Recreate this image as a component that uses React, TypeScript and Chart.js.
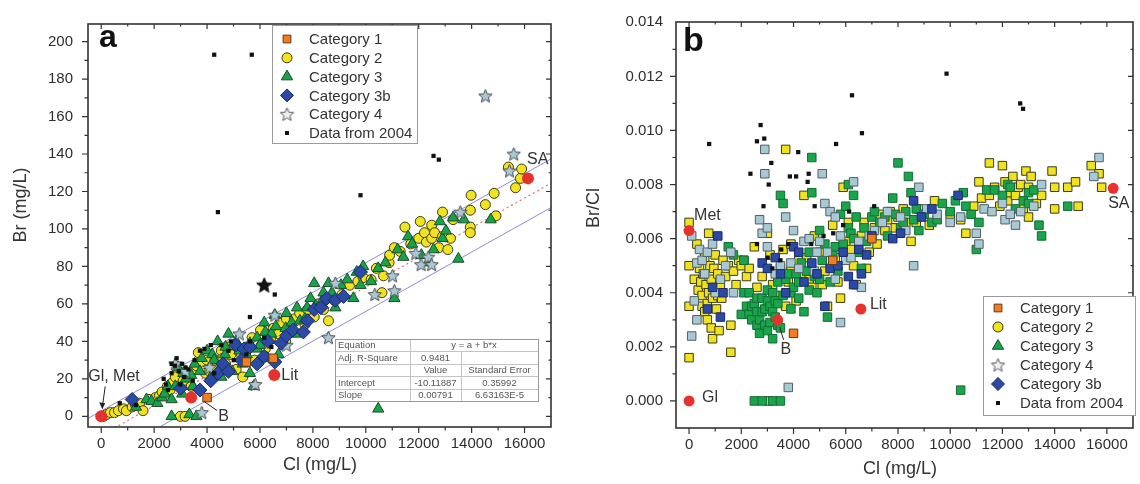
import { useEffect, useRef } from 'react';
import { Chart, registerables } from 'chart.js';
import { drawPoint } from 'chart.js/helpers';

Chart.register(...registerables);

type P = [number, number];

const FONT = '"Liberation Sans", Arial, Helvetica, sans-serif';
const INK = '#2e2e2e';

// shared x tick values (Cl, mg/L)
const xTickVals = [0, 2000, 4000, 6000, 8000, 10000, 12000, 14000, 16000];

// ---------------- Panel a : Br (mg/L) vs Cl (mg/L) ----------------
const aCat1: P[] = [[4000, 10], [5490, 29], [6500, 31]];

const aCat2: P[] = [
  [90, 0], [200, 1], [350, 2], [500, 2], [650, 3], [840, 4], [950, 3], [1170, 5], [1300, 6], [1450, 7],
  [1580, 3], [1800, 9], [2050, 10], [2200, 11], [2300, 13], [2500, 16], [2600, 14], [2700, 18], [2800, 21],
  [2990, 0], [3100, 19], [3170, 0], [3300, 23], [3400, 16], [3500, 25], [3600, 27], [3670, 34], [3800, 29],
  [3940, 23], [4000, 30], [4100, 24], [4200, 27], [4300, 30], [4540, 35], [4600, 31], [4700, 28], [4800, 37],
  [4900, 33], [5100, 25], [5300, 33], [5350, 21], [5500, 37], [5700, 42], [5800, 30], [6020, 46], [6100, 39],
  [6200, 36], [6400, 41], [6500, 47], [6700, 44], [6800, 50], [6970, 40], [7000, 52], [7100, 47], [7300, 52],
  [7500, 55], [7700, 49], [7800, 57], [8050, 53], [8200, 60], [8400, 57], [8590, 51], [8800, 62], [9100, 65],
  [9390, 70], [9700, 72], [9900, 74], [10200, 73], [10400, 79], [10610, 66], [10670, 75], [10880, 82],
  [10900, 86], [11080, 90], [11300, 88], [11480, 101], [11700, 92], [12000, 95], [12060, 104], [12220, 98],
  [12290, 93], [12490, 102], [12490, 95], [12600, 98], [12760, 90], [12900, 109], [12900, 96], [13100, 89],
  [13200, 95], [13300, 105], [13950, 110], [13950, 101], [13950, 98], [13980, 118], [14520, 113],
  [14850, 119], [14920, 107], [15390, 133], [15660, 122], [15840, 127], [15890, 132],
];

const aCat3: P[] = [
  [1310, 5], [1710, 9], [1900, 8], [2120, 7], [2300, 10], [2400, 12], [2520, 16], [2660, 9], [2660, 0],
  [2800, 16], [2900, 26], [3060, 12], [3100, 23], [3200, 20], [3330, 1], [3400, 22], [3460, 16], [3530, 28],
  [3600, 0], [3730, 24], [3800, 31], [4000, 35], [4140, 21], [4200, 33], [4270, 30], [4400, 40], [4540, 21],
  [4680, 33], [4700, 37], [4810, 44], [4950, 24], [5100, 40], [5220, 35], [5350, 28], [5500, 33], [5620, 39],
  [5620, 23], [5760, 16], [5890, 42], [5900, 36], [6000, 38], [6160, 50], [6200, 45], [6290, 31], [6430, 44],
  [6560, 54], [6600, 48], [6700, 33], [6970, 47], [7000, 55], [7200, 50], [7370, 44], [7400, 58], [7510, 51],
  [7700, 52], [7780, 58], [7910, 63], [8050, 71], [8100, 59], [8320, 61], [8400, 66], [8590, 71], [8720, 66],
  [8850, 58], [9060, 70], [9300, 73], [9530, 63], [9660, 77], [9800, 70], [9900, 80], [10200, 72],
  [10470, 79], [10470, 4], [10740, 82], [11080, 63], [11200, 89], [11420, 85], [11600, 96], [11750, 92],
  [12100, 86], [12360, 82], [12560, 89], [12800, 104], [12900, 95], [13030, 99], [13300, 106], [13500, 84],
  [13710, 105], [14720, 105],
];

const aCat3b: P[] = [
  [1170, 9], [3000, 15], [3730, 14], [4140, 19], [4410, 23], [4600, 28], [4810, 24], [5080, 38], [5300, 30],
  [5400, 36], [5620, 37], [5890, 28], [6160, 32], [6300, 40], [6560, 29], [6800, 39], [7000, 43], [7240, 46],
  [7640, 45], [7800, 51], [8050, 57], [8300, 58], [8520, 63], [8850, 62], [9160, 64], [9800, 77],
];

const aCat4: P[] = [
  [2800, 28], [3190, 24], [3800, 2], [4100, 26], [5220, 44], [5820, 17], [6560, 54], [7000, 38], [8590, 42],
  [8850, 71], [10340, 65], [11010, 75], [11080, 67], [11890, 87], [12090, 81], [12360, 85], [12490, 81],
  [13570, 109], [14520, 171], [15430, 131], [15590, 140],
];

const a2004: P[] = [
  [700, 7], [1310, 6], [2360, 20], [2450, 17], [2520, 14], [2660, 23], [2660, 28], [2790, 27], [2850, 31],
  [2930, 24], [2990, 17], [3060, 28], [3130, 21], [3190, 26], [3300, 25], [3460, 19], [3530, 30], [3730, 35],
  [3900, 36], [4140, 38], [4270, 23], [4270, 193], [4410, 109], [4540, 38], [4810, 35], [4900, 40], [5010, 30],
  [5490, 33], [5620, 40], [5620, 53], [5690, 193], [6160, 42], [6430, 37], [6560, 65], [9800, 118],
  [12560, 139], [12760, 137],
];
const a2004Star: P[] = [[6160, 70]];

const aRef: P[] = [[0, 0], [3400, 10], [6540, 22], [16130, 127]];
const aRefLabels = ['Gl, Met', 'B', 'Lit', 'SA'];

// fitted line and prediction band end points
const aFit: P[] = [[-500, -14.1], [17000, 124.4]];
const aBandUpper: P[] = [[-500, -1.1], [17000, 137.4]];
const aBandLower: P[] = [[-500, -27.1], [17000, 111.4]];

const tableRows: string[][] = [
  ['Equation', 'y = a + b*x', ''],
  ['Adj. R-Square', '0.9481', ''],
  ['', 'Value', 'Standard Error'],
  ['Intercept', '-10.11887', '0.35992'],
  ['Slope', '0.00791', '6.63163E-5'],
];

// ---------------- Panel b : Br/Cl vs Cl (mg/L) ----------------
const bCat1: P[] = [[4000, 0.0025], [5500, 0.0052], [7000, 0.006]];

const bCat2: P[] = [
  [0, 0.0066], [0, 0.005], [0, 0.0035], [0, 0.0016], [200, 0.0045], [300, 0.0058], [350, 0.0041], [400, 0.0049],
  [450, 0.0044], [500, 0.0039], [500, 0.0035], [550, 0.0047], [600, 0.0053], [600, 0.0033], [650, 0.0043],
  [700, 0.0036], [700, 0.003], [750, 0.0062], [750, 0.004], [800, 0.005], [850, 0.0045], [850, 0.0027],
  [900, 0.0038], [900, 0.0023], [950, 0.0049], [1000, 0.0054], [1000, 0.0041], [1050, 0.0034], [1100, 0.0047],
  [1100, 0.0039], [1150, 0.0026], [1200, 0.0043], [1250, 0.0038], [1300, 0.0052], [1400, 0.0046], [1500, 0.005],
  [1600, 0.0028], [1600, 0.0018], [1700, 0.0048], [1800, 0.0043], [1900, 0.0052], [2000, 0.005], [2100, 0.0052],
  [2200, 0.0046], [2300, 0.0049], [2500, 0.0057], [2600, 0.0042], [2800, 0.0046], [3000, 0.0062], [3050, 0.0],
  [3100, 0.0054], [3200, 0.0043], [3300, 0.0039], [3400, 0.0045], [3500, 0.0049], [3600, 0.0056], [3700, 0.0035],
  [3700, 0.0093], [3800, 0.0044], [3900, 0.0058], [3900, 0.0048], [4100, 0.0037], [4200, 0.0052], [4300, 0.0047],
  [4400, 0.0076], [4500, 0.0053], [4600, 0.0045], [4700, 0.0042], [4800, 0.0061], [5000, 0.0055], [5100, 0.0043],
  [5200, 0.0048], [5300, 0.0035], [5500, 0.0065], [5600, 0.0053], [5700, 0.0044], [5800, 0.0038], [5900, 0.0079],
  [6000, 0.0059], [6100, 0.0066], [6200, 0.0056], [6300, 0.005], [6400, 0.0043], [6600, 0.0061], [6700, 0.0066],
  [6800, 0.0049], [6900, 0.0055], [7100, 0.0064], [7200, 0.0058], [7300, 0.0069], [7500, 0.0063], [7600, 0.0067],
  [7700, 0.007], [7900, 0.0064], [8000, 0.0068], [8200, 0.0071], [8300, 0.0066], [8500, 0.0059], [8700, 0.0066],
  [8800, 0.0071], [9200, 0.0065], [9400, 0.0074], [10000, 0.0069], [10400, 0.0067], [10600, 0.0062],
  [10900, 0.0072], [11100, 0.0081], [11200, 0.0075], [11500, 0.0076], [11500, 0.0088], [11700, 0.0079],
  [11900, 0.0072], [12000, 0.0087], [12100, 0.0081], [12200, 0.0074], [12300, 0.0077], [12400, 0.0083],
  [12500, 0.0076], [12600, 0.0079], [12700, 0.008], [12800, 0.0071], [12900, 0.0085], [13000, 0.0068],
  [13000, 0.0079], [13100, 0.0083], [13300, 0.0073], [13500, 0.0076], [13900, 0.0085], [14000, 0.0079],
  [14000, 0.0071], [14500, 0.0079], [14800, 0.0081], [14900, 0.0072], [15400, 0.0087], [15700, 0.0084],
  [15800, 0.0079],
];

const bCat3: P[] = [
  [1500, 0.0057], [1700, 0.0054], [2000, 0.0032], [2100, 0.0052], [2100, 0.004], [2200, 0.0035], [2300, 0.004],
  [2300, 0.0032], [2400, 0.003], [2400, 0.0035], [2500, 0.0036], [2500, 0.0], [2600, 0.0033], [2600, 0.0038],
  [2600, 0.0028], [2700, 0.0025], [2700, 0.003], [2800, 0.0038], [2800, 0.0033], [2800, 0.0], [2900, 0.0028],
  [2900, 0.0034], [3000, 0.0041], [3000, 0.0026], [3000, 0.0037], [3100, 0.0035], [3100, 0.0029], [3200, 0.0023],
  [3200, 0.004], [3200, 0.0033], [3200, 0.0], [3300, 0.0031], [3300, 0.0037], [3400, 0.0044], [3400, 0.0036],
  [3400, 0.0028], [3500, 0.0076], [3500, 0.0027], [3500, 0.0], [3600, 0.0073], [3600, 0.0039], [3700, 0.0045],
  [3800, 0.0047], [3900, 0.0034], [3900, 0.004], [4000, 0.0042], [4100, 0.0047], [4200, 0.0038], [4200, 0.0044],
  [4300, 0.0051], [4400, 0.0033], [4500, 0.0048], [4600, 0.0055], [4600, 0.0041], [4700, 0.009], [4700, 0.0077],
  [4800, 0.0046], [4900, 0.004], [5000, 0.0063], [5000, 0.0045], [5100, 0.0052], [5200, 0.0058], [5300, 0.0031],
  [5400, 0.0044], [5500, 0.0054], [5600, 0.0057], [5700, 0.0048], [5800, 0.0069], [5900, 0.0058], [6000, 0.0072],
  [6100, 0.008], [6100, 0.0064], [6200, 0.0062], [6300, 0.0076], [6300, 0.006], [6400, 0.0068], [6500, 0.0055],
  [6600, 0.0049], [6700, 0.0064], [6800, 0.0059], [7000, 0.0068], [7100, 0.007], [7300, 0.0066], [7500, 0.0068],
  [7600, 0.0061], [7800, 0.0075], [7900, 0.0069], [8000, 0.0088], [8100, 0.0064], [8200, 0.0066], [8300, 0.007],
  [8400, 0.0083], [8500, 0.0077], [8600, 0.0067], [8700, 0.0071], [8800, 0.0063], [9000, 0.0069], [9300, 0.0066],
  [9500, 0.0067], [9700, 0.0073], [10000, 0.007], [10200, 0.0074], [10400, 0.0004], [10500, 0.0077],
  [10600, 0.0072], [10800, 0.0069], [11000, 0.0056], [11100, 0.0066], [11400, 0.0078], [11700, 0.0078],
  [12000, 0.0076], [12200, 0.008], [12300, 0.0079], [12500, 0.0071], [12800, 0.0074], [13000, 0.0073],
  [13000, 0.0077], [13200, 0.0078], [13400, 0.0065], [13500, 0.0061], [14500, 0.0072],
];

const bCat4: P[] = [
  [100, 0.0061], [100, 0.0024], [200, 0.0037], [300, 0.003], [300, 0.0051], [400, 0.0056], [500, 0.0052],
  [600, 0.0047], [700, 0.0055], [900, 0.0058], [1000, 0.004], [1200, 0.0045], [1400, 0.005], [1600, 0.0055],
  [1700, 0.004], [2700, 0.0067], [2800, 0.0062], [2900, 0.0093], [2900, 0.0084], [3000, 0.0057], [3000, 0.0064],
  [3300, 0.0047], [3500, 0.005], [3700, 0.0068], [3800, 0.0005], [3900, 0.0051], [4000, 0.0063], [4200, 0.0049],
  [4400, 0.0059], [4600, 0.006], [4800, 0.0048], [4900, 0.0055], [5000, 0.0059], [5100, 0.0084], [5200, 0.0073],
  [5300, 0.0055], [5400, 0.007], [5600, 0.0068], [5600, 0.0045], [5800, 0.0029], [5800, 0.0061], [6000, 0.0052],
  [6200, 0.0053], [6300, 0.0081], [6500, 0.0059], [6600, 0.0042], [6900, 0.0061], [7100, 0.0063], [7400, 0.0066],
  [7600, 0.007], [8100, 0.0068], [8300, 0.0063], [8600, 0.005], [8800, 0.0079], [9100, 0.0071], [9500, 0.0069],
  [10000, 0.0066], [10400, 0.0068], [11000, 0.0062], [11100, 0.0058], [11300, 0.0071], [11600, 0.007],
  [12000, 0.0073], [12100, 0.0067], [12300, 0.0069], [12500, 0.0065], [12700, 0.007], [13200, 0.0072],
  [13500, 0.008], [15500, 0.0083], [15700, 0.009],
];

const bCat3b: P[] = [
  [700, 0.0034], [900, 0.0042], [1100, 0.0061], [1200, 0.0031], [1300, 0.004], [2800, 0.0051], [3000, 0.0049],
  [3300, 0.0053], [3500, 0.0047], [3700, 0.004], [4000, 0.0057], [4200, 0.0055], [4400, 0.0044], [4700, 0.0051],
  [4900, 0.0047], [5200, 0.0035], [5400, 0.0049], [5700, 0.005], [5900, 0.0055], [6100, 0.0046], [6300, 0.0043],
  [6500, 0.0056], [6600, 0.0047], [6800, 0.0054], [7000, 0.0061], [7800, 0.006], [8100, 0.0062], [8600, 0.0074],
  [8900, 0.0068], [9300, 0.0071], [10300, 0.0076],
];

const b2004: P[] = [
  [770, 0.0095], [2350, 0.0084], [2600, 0.0096], [2600, 0.0058], [2740, 0.0102], [2850, 0.0072], [2880, 0.0097],
  [3010, 0.0053], [3050, 0.008], [3150, 0.0088], [3190, 0.0049], [3500, 0.0052], [3530, 0.0056], [3800, 0.0058],
  [3860, 0.0083], [4100, 0.0083], [4180, 0.0092], [4540, 0.0081], [4580, 0.0084], [4680, 0.0058], [4810, 0.0072],
  [5150, 0.0061], [5520, 0.0062], [5630, 0.0095], [5900, 0.0065], [6130, 0.007], [6240, 0.0113], [6620, 0.0099],
  [7090, 0.0072], [9860, 0.0121], [12680, 0.011], [12790, 0.0108],
];

const bRef: P[] = [[0, 0.0063], [0, 0], [3390, 0.003], [6580, 0.0034], [16240, 0.00786]];
const bRefLabels = ['Met', 'Gl', 'B', 'Lit', 'SA'];

// ---------------- helpers ----------------
const toPts = (arr: P[]) => arr.map(([x, y]) => ({ x, y }));

function makeStar(fill: string, stroke: string, r: number) {
  const c = document.createElement('canvas');
  const s = Math.ceil(r * 2 + 3);
  c.width = s;
  c.height = s;
  const g = c.getContext('2d')!;
  g.beginPath();
  for (let i = 0; i < 10; i++) {
    const rad = i % 2 === 0 ? r : r * 0.45;
    const ang = -Math.PI / 2 + (i * Math.PI) / 5;
    const px = s / 2 + rad * Math.cos(ang);
    const py = s / 2 + 0.5 + rad * Math.sin(ang);
    if (i === 0) g.moveTo(px, py);
    else g.lineTo(px, py);
  }
  g.closePath();
  g.fillStyle = fill;
  g.fill();
  g.lineWidth = 1;
  g.strokeStyle = stroke;
  g.stroke();
  return c;
}

function drawFrame(chart: any, xMinor: number, xPer: number, xMaxTick: number, yMinor: number, yPer: number, yCount: number) {
  const { ctx, chartArea: a } = chart;
  const xs = chart.scales.x;
  const ys = chart.scales.y;
  ctx.save();
  ctx.strokeStyle = '#333';
  ctx.lineWidth = 1.2;
  ctx.beginPath();
  for (let i = 0; i * xMinor <= xMaxTick; i++) {
    const px = xs.getPixelForValue(i * xMinor);
    const L = i % xPer === 0 ? 6 : 3.5;
    ctx.moveTo(px, a.bottom);
    ctx.lineTo(px, a.bottom + L);
    ctx.moveTo(px, a.top);
    ctx.lineTo(px, a.top + L - 1);
  }
  for (let i = 0; i <= yCount; i++) {
    const py = ys.getPixelForValue(i * yMinor);
    if (py < a.top + 1) continue;
    const L = i % yPer === 0 ? 6 : 3.5;
    ctx.moveTo(a.left, py);
    ctx.lineTo(a.left - L, py);
    ctx.moveTo(a.right, py);
    ctx.lineTo(a.right - L + 1, py);
  }
  ctx.stroke();
  ctx.lineWidth = 1.6;
  ctx.strokeRect(a.left, a.top, a.right - a.left, a.bottom - a.top);
  ctx.restore();
}

type LegendItem = { text: string; style: any; radius: number; fill: string; stroke: string; bw: number };

function drawLegend(ctx: CanvasRenderingContext2D, box: number[], items: LegendItem[], y0: number, dy: number, symX: number, textX: number) {
  ctx.save();
  ctx.fillStyle = '#ffffff';
  ctx.fillRect(box[0], box[1], box[2] - box[0], box[3] - box[1]);
  ctx.strokeStyle = '#9a9a9a';
  ctx.lineWidth = 1;
  ctx.strokeRect(box[0] + 0.5, box[1] + 0.5, box[2] - box[0], box[3] - box[1]);
  items.forEach((it, i) => {
    const y = y0 + i * dy;
    ctx.fillStyle = it.fill;
    ctx.strokeStyle = it.stroke;
    ctx.lineWidth = it.bw;
    drawPoint(ctx, { pointStyle: it.style, radius: it.radius, rotation: 0, borderWidth: it.bw } as any, symX, y);
    ctx.fillStyle = '#333';
    ctx.font = `15px ${FONT}`;
    ctx.textAlign = 'left';
    ctx.textBaseline = 'middle';
    ctx.fillText(it.text, textX, y + 1);
  });
  ctx.restore();
}

function text(ctx: CanvasRenderingContext2D, s: string, x: number, y: number, font: string, align: CanvasTextAlign = 'left', color = '#333') {
  ctx.font = font;
  ctx.fillStyle = color;
  ctx.textAlign = align;
  ctx.textBaseline = 'middle';
  ctx.fillText(s, x, y);
}

function axisOpts(extra: any) {
  return {
    type: 'linear',
    grid: { display: false, drawTicks: false },
    border: { display: false },
    ...extra,
  };
}

export default function App() {
  const refA = useRef<HTMLCanvasElement>(null);
  const refB = useRef<HTMLCanvasElement>(null);

  useEffect(() => {
    const starCat4 = makeStar('#a9c8d6', '#4a4a4a', 7);
    const starBlack = makeStar('#111111', '#111111', 8);
    const starLegend = makeStar('#eef2f4', '#555555', 7);
    const tickFont = { family: FONT, size: 15 };
    const setXTicks = (s: any) => { s.ticks = xTickVals.map((v) => ({ value: v })); };
    const plainLabel = (v: any) => String(Math.round(Number(v)));

    const red = '#e6322d';
    const cYellow = '#f1e31f';
    const cGreen = '#17a34a';
    const cBlue = '#2b4aa6';
    const cOrange = '#f07d22';

    // ---------- chart a ----------
    const pluginA = {
      id: 'decorA',
      afterDatasetsDraw(chart: any) {
        const ctx = chart.ctx as CanvasRenderingContext2D;
        const xs = chart.scales.x;
        const ys = chart.scales.y;
        drawFrame(chart, 1000, 2, 16000, 10, 2, 20);
        ctx.save();
        text(ctx, 'a', 99, 38, `bold 32px ${FONT}`, 'left', '#111');
        const px = (i: number) => xs.getPixelForValue(aRef[i][0]);
        const py = (i: number) => ys.getPixelForValue(aRef[i][1]);
        const f = `16px ${FONT}`;
        text(ctx, aRefLabels[0], px(0) - 13, py(0) - 40, f);
        text(ctx, aRefLabels[1], px(1) + 27, py(1) + 19, f);
        text(ctx, aRefLabels[2], px(2) + 7, py(2), f);
        text(ctx, aRefLabels[3], px(3) - 1, py(3) - 19, f);
        ctx.strokeStyle = '#222';
        ctx.fillStyle = '#222';
        ctx.lineWidth = 1;
        ctx.beginPath();
        ctx.moveTo(px(0) + 4, py(0) - 30);
        ctx.lineTo(px(0) + 1.5, py(0) - 12);
        ctx.moveTo(px(1) + 13, py(1) + 4);
        ctx.lineTo(px(1) + 26, py(1) + 13);
        ctx.stroke();
        ctx.beginPath();
        ctx.moveTo(px(0) + 1, py(0) - 7);
        ctx.lineTo(px(0) - 2, py(0) - 14);
        ctx.lineTo(px(0) + 4, py(0) - 13);
        ctx.closePath();
        ctx.fill();
        // statistics table
        const x0 = 335, y0 = 339, x1 = 538, rh = 12.4, c1 = 410, c2 = 461;
        const y1 = y0 + rh * 5;
        ctx.fillStyle = '#ffffff';
        ctx.fillRect(x0, y0, x1 - x0, y1 - y0);
        ctx.strokeStyle = '#c4c4c4';
        ctx.lineWidth = 1;
        ctx.beginPath();
        for (let i = 1; i < 5; i++) {
          ctx.moveTo(x0, Math.round(y0 + rh * i) + 0.5);
          ctx.lineTo(x1, Math.round(y0 + rh * i) + 0.5);
        }
        ctx.moveTo(c1 + 0.5, y0);
        ctx.lineTo(c1 + 0.5, y1);
        ctx.moveTo(c2 + 0.5, y0 + rh);
        ctx.lineTo(c2 + 0.5, y1);
        ctx.stroke();
        ctx.strokeStyle = '#999';
        ctx.strokeRect(x0 + 0.5, y0 + 0.5, x1 - x0, y1 - y0);
        const tf = `9.5px ${FONT}`;
        tableRows.forEach((row, i) => {
          const yy = y0 + rh * (i + 0.5) + 0.5;
          text(ctx, row[0], x0 + 3, yy, tf, 'left', '#555');
          if (i === 0) text(ctx, row[1], (c1 + x1) / 2, yy, tf, 'center', '#555');
          else {
            text(ctx, row[1], (c1 + c2) / 2, yy, tf, 'center', '#555');
            text(ctx, row[2], (c2 + x1) / 2, yy, tf, 'center', '#555');
          }
        });
        drawLegend(ctx, [272, 25, 417, 143], [
          { text: 'Category 1', style: 'rect', radius: 5.5, fill: cOrange, stroke: '#5a3a20', bw: 1 },
          { text: 'Category 2', style: 'circle', radius: 5, fill: cYellow, stroke: '#3a3a1a', bw: 1 },
          { text: 'Category 3', style: 'triangle', radius: 6.5, fill: cGreen, stroke: '#1d4d2a', bw: 1 },
          { text: 'Category 3b', style: 'rectRot', radius: 6.5, fill: cBlue, stroke: '#1b2860', bw: 1 },
          { text: 'Category 4', style: starLegend, radius: 7, fill: '#fff', stroke: '#555', bw: 1 },
          { text: 'Data from 2004', style: 'rect', radius: 2.8, fill: '#111', stroke: '#111', bw: 0 },
        ], 39, 18.8, 287, 309);
        text(ctx, 'Cl (mg/L)', 320, 465, `18px ${FONT}`, 'center', '#333');
        ctx.translate(21, 205);
        ctx.rotate(-Math.PI / 2);
        text(ctx, 'Br (mg/L)', 0, 0, `18px ${FONT}`, 'center', '#333');
        ctx.restore();
      },
    };

    const chartA = new Chart(refA.current!, {
      type: 'scatter',
      data: {
        datasets: [
          { label: 'Reference', data: toPts(aRef), pointStyle: 'circle', pointRadius: 6, backgroundColor: red, borderColor: red, borderWidth: 0, order: 0 },
          { label: 'Data from 2004', data: toPts(a2004), pointStyle: 'rect', pointRadius: 3, backgroundColor: '#111', borderColor: '#111', borderWidth: 0, order: 1 },
          { label: 'Data from 2004 (star)', data: toPts(a2004Star), pointStyle: starBlack, pointRadius: 8, order: 1 },
          { label: 'Category 1', data: toPts(aCat1), pointStyle: 'rect', pointRadius: 6, backgroundColor: cOrange, borderColor: '#5a3a20', borderWidth: 1, order: 2 },
          { label: 'Category 3b', data: toPts(aCat3b), pointStyle: 'rectRot', pointRadius: 7, backgroundColor: cBlue, borderColor: '#1b2860', borderWidth: 1, order: 3 },
          { label: 'Category 4', data: toPts(aCat4), pointStyle: starCat4, pointRadius: 7, order: 4 },
          { label: 'Category 3', data: toPts(aCat3), pointStyle: 'triangle', pointRadius: 6.5, backgroundColor: cGreen, borderColor: '#1d4d2a', borderWidth: 1, order: 5 },
          { label: 'Category 2', data: toPts(aCat2), pointStyle: 'circle', pointRadius: 5, backgroundColor: cYellow, borderColor: '#3a3a1a', borderWidth: 1, order: 6 },
          { label: 'Fit', data: toPts(aFit), showLine: true, pointRadius: 0, borderColor: '#e07070', borderWidth: 1.2, borderDash: [2, 3], order: 7 },
          { label: 'Upper band', data: toPts(aBandUpper), showLine: true, pointRadius: 0, borderColor: '#8c8cd6', borderWidth: 1, order: 7 },
          { label: 'Lower band', data: toPts(aBandLower), showLine: true, pointRadius: 0, borderColor: '#8c8cd6', borderWidth: 1, order: 7 },
        ],
      } as any,
      options: {
        animation: false,
        responsive: false,
        maintainAspectRatio: false,
        layout: { padding: { top: 15, right: 19, bottom: 0, left: 0 } },
        plugins: { legend: { display: false }, tooltip: { enabled: false }, title: { display: false } },
        scales: {
          x: axisOpts({
            min: -500, max: 17000,
            afterFit: (s: any) => { s.height = 57; },
            afterBuildTicks: setXTicks,
            ticks: { padding: 8, color: INK, font: tickFont, maxRotation: 0, autoSkip: false, callback: plainLabel },
          }),
          y: axisOpts({
            min: -5.7, max: 209.4,
            afterFit: (s: any) => { s.width = 88; },
            ticks: { stepSize: 20, includeBounds: false, padding: 15, color: INK, font: tickFont, autoSkip: false, callback: plainLabel },
          }),
        },
      } as any,
      plugins: [pluginA],
    });

    // ---------- chart b ----------
    const pluginB = {
      id: 'decorB',
      afterDatasetsDraw(chart: any) {
        const ctx = chart.ctx as CanvasRenderingContext2D;
        const xs = chart.scales.x;
        const ys = chart.scales.y;
        drawFrame(chart, 1000, 2, 16000, 0.001, 2, 14);
        ctx.save();
        text(ctx, 'b', 108, 42, `bold 34px ${FONT}`, 'left', '#111');
        const px = (i: number) => xs.getPixelForValue(bRef[i][0]);
        const py = (i: number) => ys.getPixelForValue(bRef[i][1]);
        const f = `16px ${FONT}`;
        text(ctx, bRefLabels[0], px(0) + 5, py(0) - 15, f);
        text(ctx, bRefLabels[1], px(1) + 13, py(1) - 3, f);
        text(ctx, bRefLabels[2], px(2) + 3, py(2) + 30, f);
        text(ctx, bRefLabels[3], px(3) + 9, py(3) - 4, f);
        text(ctx, bRefLabels[4], px(4) - 5, py(4) + 15, f);
        ctx.strokeStyle = '#222';
        ctx.lineWidth = 1;
        ctx.beginPath();
        ctx.moveTo(px(2) + 2, py(2) + 7);
        ctx.lineTo(px(2) + 6, py(2) + 20);
        ctx.stroke();
        drawLegend(ctx, [408, 296, 560, 415], [
          { text: 'Category 1', style: 'rect', radius: 5.5, fill: cOrange, stroke: '#5a3a20', bw: 1 },
          { text: 'Category 2', style: 'circle', radius: 5, fill: cYellow, stroke: '#3a3a1a', bw: 1 },
          { text: 'Category 3', style: 'triangle', radius: 6.5, fill: cGreen, stroke: '#1d4d2a', bw: 1 },
          { text: 'Category 4', style: starLegend, radius: 7, fill: '#fff', stroke: '#555', bw: 1 },
          { text: 'Category 3b', style: 'rectRot', radius: 6.5, fill: cBlue, stroke: '#1b2860', bw: 1 },
          { text: 'Data from 2004', style: 'rect', radius: 2.8, fill: '#111', stroke: '#111', bw: 0 },
        ], 308, 19, 423, 445);
        text(ctx, 'Cl (mg/L)', 325, 469, `18px ${FONT}`, 'center', '#333');
        ctx.translate(19, 208);
        ctx.rotate(-Math.PI / 2);
        text(ctx, 'Br/Cl', 0, 0, `18px ${FONT}`, 'center', '#333');
        ctx.restore();
      },
    };

    const sq = (data: P[], label: string, fill: string, stroke: string, order: number) => ({
      label, data: toPts(data), pointStyle: 'rect', pointRadius: 6, backgroundColor: fill, borderColor: stroke, borderWidth: 1, order,
    });

    const chartB = new Chart(refB.current!, {
      type: 'scatter',
      data: {
        datasets: [
          { label: 'Reference', data: toPts(bRef), pointStyle: 'circle', pointRadius: 5.5, backgroundColor: red, borderColor: red, borderWidth: 0, order: 0 },
          { label: 'Data from 2004', data: toPts(b2004), pointStyle: 'rect', pointRadius: 3, backgroundColor: '#111', borderColor: '#111', borderWidth: 0, order: 1 },
          sq(bCat1, 'Category 1', cOrange, '#5a3a20', 2),
          sq(bCat3b, 'Category 3b', cBlue, '#1b2a66', 3),
          sq(bCat4, 'Category 4', '#a8c9d4', '#4f5f66', 4),
          sq(bCat3, 'Category 3', '#1aa44c', '#146b33', 5),
          sq(bCat2, 'Category 2', '#f0e31e', '#3b3b1b', 6),
        ],
      } as any,
      options: {
        animation: false,
        responsive: false,
        maintainAspectRatio: false,
        layout: { padding: { top: 16, right: 2, bottom: 0, left: 0 } },
        plugins: { legend: { display: false }, tooltip: { enabled: false }, title: { display: false } },
        scales: {
          x: axisOpts({
            min: -500, max: 17000,
            afterFit: (s: any) => { s.height = 56; },
            afterBuildTicks: setXTicks,
            ticks: { padding: 8, color: INK, font: tickFont, maxRotation: 0, autoSkip: false, callback: plainLabel },
          }),
          y: axisOpts({
            min: -0.001, max: 0.01401,
            afterFit: (s: any) => { s.width = 101; },
            ticks: { stepSize: 0.002, includeBounds: false, padding: 13, color: INK, font: tickFont, autoSkip: false, callback: (v: any) => Number(v).toFixed(3) },
          }),
        },
      } as any,
      plugins: [pluginB],
    });

    return () => {
      chartA.destroy();
      chartB.destroy();
    };
  }, []);

  return (
    <div style={{ position: 'fixed', left: 0, top: 0, width: 1140, height: 484, background: '#fff' }}>
      <canvas ref={refA} width={570} height={484} style={{ position: 'absolute', left: 0, top: 0, width: 570, height: 484 }} />
      <canvas ref={refB} width={565} height={484} style={{ position: 'absolute', left: 575, top: 0, width: 565, height: 484 }} />
    </div>
  );
}
